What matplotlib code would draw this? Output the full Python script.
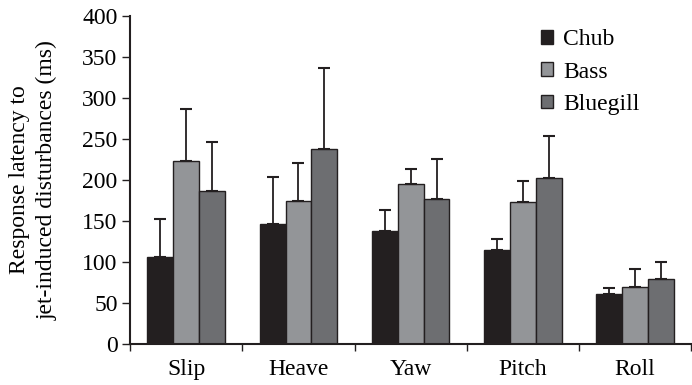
import numpy as np
import matplotlib
matplotlib.use('Agg')
import matplotlib.pyplot as plt

categories = ["Slip", "Heave", "Yaw", "Pitch", "Roll"]
species = ["Chub", "Bass", "Bluegill"]
chub_mean = [106, 146, 138, 115, 61]
chub_err = [47, 58, 25, 13, 7]
bass_mean = [223, 174, 195, 173, 70]
bass_err = [63, 47, 19, 26, 22]
bluegill_mean = [186, 238, 177, 203, 79]
bluegill_err = [60, 98, 49, 51, 21]
colors = ["#231f20", "#939598", "#6d6e71"]

plt.rcParams['font.family'] = ['Liberation Serif', 'DejaVu Serif']
fs = 17

fig = plt.figure(figsize=(6.92, 3.85), dpi=100)
ax = fig.add_axes([0.188, 0.1065, 0.811, 0.852])

x = np.arange(len(categories))
w = 0.23
means = [chub_mean, bass_mean, bluegill_mean]
errs = [chub_err, bass_err, bluegill_err]
for i, (m, e) in enumerate(zip(means, errs)):
    ax.bar(x + (i - 1) * w, m, width=w, color=colors[i], edgecolor="#231f20",
           linewidth=1.0, label=species[i], zorder=2,
           yerr=[np.zeros(len(e)), e], capsize=4,
           error_kw=dict(ecolor="#231f20", elinewidth=1.3, capthick=1.5))

ax.set_xlim(-0.5, 4.5)
ax.set_ylim(0, 400)
ax.set_yticks(range(0, 401, 50))
ax.set_xticks(x)
ax.set_xticklabels(categories)
ax.set_xticks(np.arange(-0.5, 4.6, 1.0), minor=True)
ax.tick_params(axis='x', which='major', length=0, pad=11, labelsize=fs)
ax.tick_params(axis='x', which='minor', length=5, width=1.0, direction='out', color="#231f20")
ax.tick_params(axis='y', length=6, width=1.0, direction='out', labelsize=fs, pad=3, color="#231f20")
for s in ["top", "right"]:
    ax.spines[s].set_visible(False)
for s in ["left", "bottom"]:
    ax.spines[s].set_linewidth(1.5)
    ax.spines[s].set_color("#231f20")

ax.set_ylabel("Response latency to\njet-induced disturbances (ms)", fontsize=fs,
              linespacing=1.4, va="center", ha="center")
ax.yaxis.set_label_coords(-0.173, 0.5)

leg = ax.legend(loc="upper right", bbox_to_anchor=(0.937, 1.01), frameon=False, fontsize=fs,
                handlelength=0.5, handleheight=0.5, handletextpad=0.42, labelspacing=0.48,
                borderpad=0.2)

fig.savefig("out.png", dpi=100)
